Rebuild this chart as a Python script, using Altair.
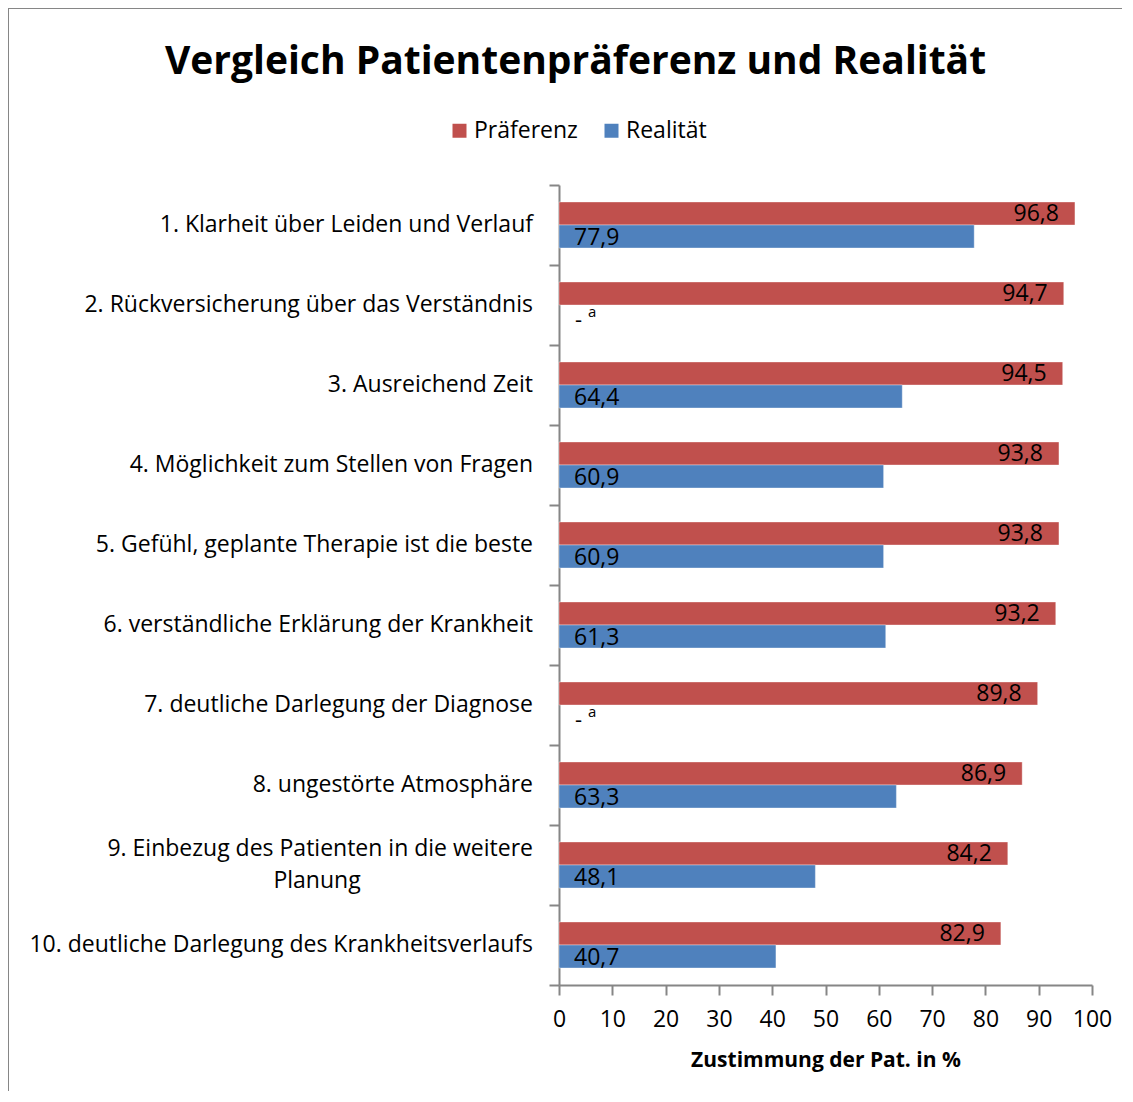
import altair as alt
import pandas as pd

categories = [
    "1. Klarheit über Leiden und Verlauf",
    "2. Rückversicherung über das Verständnis",
    "3. Ausreichend Zeit",
    "4. Möglichkeit zum Stellen von Fragen",
    "5. Gefühl, geplante Therapie ist die beste",
    "6. verständliche Erklärung der Krankheit",
    "7. deutliche Darlegung der Diagnose",
    "8. ungestörte Atmosphäre",
    "9. Einbezug des Patienten in die weitere Planung",
    "10. deutliche Darlegung des Krankheitsverlaufs",
]
praeferenz = [96.8, 94.7, 94.5, 93.8, 93.8, 93.2, 89.8, 86.9, 84.2, 82.9]
realitaet = [77.9, None, 64.4, 60.9, 60.9, 61.3, None, 63.3, 48.1, 40.7]
series = ["Präferenz", "Realität"]
colors = ["#C0504D", "#4F81BD"]
x_ticks = [0, 10, 20, 30, 40, 50, 60, 70, 80, 90, 100]

FONT = "Open Sans"
GRAY = "#868686"
FS = 23

rows = []
for c, p, r in zip(categories, praeferenz, realitaet):
    rows.append({"cat": c, "series": "Präferenz", "value": p})
    rows.append({"cat": c, "series": "Realität", "value": r})
df = pd.DataFrame(rows)
df_bars = df.dropna()
df_missing = df[df["value"].isna()].copy()

label_df = pd.DataFrame({"cat": categories, "line1": categories, "line2": [""] * len(categories)})
label_df.loc[8, "line1"] = "9. Einbezug des Patienten in die weitere"
label_df.loc[8, "line2"] = "Planung"

y_scale = alt.Scale(domain=categories, paddingInner=0, paddingOuter=0)
y_enc = alt.Y("cat:N", scale=y_scale, sort=categories,
              axis=alt.Axis(title=None, labels=False, ticks=True, tickBand="extent",
                            tickSize=10, tickColor=GRAY, tickWidth=2,
                            domainColor=GRAY, domainWidth=2))
yoff = alt.YOffset("series:N", scale=alt.Scale(domain=series, paddingInner=0, paddingOuter=0.739))
x_scale = alt.Scale(domain=[0, 100], nice=False)

fmt = "replace(format(datum.value, '.1f'), '.', ',')"

base = alt.Chart(df_bars)

bars = base.mark_bar(stroke="white", strokeWidth=0.6, strokeOpacity=0.6).encode(
    y=y_enc,
    yOffset=yoff,
    x=alt.X("value:Q", scale=x_scale,
            axis=alt.Axis(values=x_ticks, title="Zustimmung der Pat. in %", grid=False,
                          tickSize=10, tickColor=GRAY, tickWidth=2,
                          domainColor=GRAY, domainWidth=2,
                          labelFontSize=FS, labelFont=FONT, labelColor="black",
                          labelPadding=13, labelFlush=False,
                          titleFontSize=21, titleFont=FONT, titleFontWeight="bold",
                          titleColor="black", titlePadding=18)),
    color=alt.Color("series:N", scale=alt.Scale(domain=series, range=colors),
                    legend=alt.Legend(title=None, orient="none", legendX=-111, legendY=-66,
                                      direction="horizontal", symbolType="square",
                                      symbolSize=196, symbolStrokeWidth=0,
                                      labelFontSize=FS, labelFont=FONT, labelColor="black",
                                      labelOffset=3, columnPadding=22)),
)

ykw = dict(y=alt.Y("cat:N", scale=y_scale, sort=categories), yOffset=yoff)

pref_labels = alt.Chart(df_bars).transform_filter(
    alt.datum.series == "Präferenz"
).transform_calculate(lab=fmt).mark_text(
    align="right", baseline="middle", dx=-16, dy=1, fontSize=FS, font=FONT, color="black"
).encode(x=alt.X("value:Q", scale=x_scale), text="lab:N", **ykw)

real_labels = alt.Chart(df_bars).transform_filter(
    alt.datum.series == "Realität"
).transform_calculate(lab=fmt).mark_text(
    align="left", baseline="middle", dx=15, dy=1, fontSize=FS, font=FONT, color="black"
).encode(x=alt.value(0), text="lab:N", **ykw)

miss_dash = alt.Chart(df_missing).mark_text(
    align="left", baseline="middle", dx=16, dy=3, fontSize=22, font=FONT, color="black", text="-"
).encode(x=alt.value(0), **ykw)

miss_a = alt.Chart(df_missing).mark_text(
    align="left", baseline="middle", dx=29, dy=-5, fontSize=15, font=FONT, color="black", text="a"
).encode(x=alt.value(0), **ykw)

ycat = alt.Y("cat:N", scale=y_scale, sort=categories)

cat_line1 = alt.Chart(label_df).transform_filter(alt.datum.line2 == "").mark_text(
    align="right", baseline="middle", fontSize=FS, font=FONT, color="black"
).encode(y=ycat, x=alt.value(-26), text="line1:N")

cat_two1 = alt.Chart(label_df).transform_filter(alt.datum.line2 != "").mark_text(
    align="right", baseline="middle", dy=-16, fontSize=FS, font=FONT, color="black"
).encode(y=ycat, x=alt.value(-26), text="line1:N")

cat_two2 = alt.Chart(label_df).transform_filter(alt.datum.line2 != "").mark_text(
    align="center", baseline="middle", dy=16, fontSize=FS, font=FONT, color="black"
).encode(y=ycat, x=alt.value(-242), text="line2:N")

border_top = alt.Chart(pd.DataFrame({"k": [0]})).mark_rule(color=GRAY, strokeWidth=2).encode(
    x=alt.value(-551), x2=alt.value(620), y=alt.value(-177))
border_left = alt.Chart(pd.DataFrame({"k": [0]})).mark_rule(color=GRAY, strokeWidth=2).encode(
    x=alt.value(-551), y=alt.value(-177), y2=alt.value(1000))

chart = alt.layer(
    bars, pref_labels, real_labels, miss_dash, miss_a,
    cat_line1, cat_two1, cat_two2, border_top, border_left
).properties(
    width=533, height=800,
    title=alt.TitleParams("Vergleich Patientenpräferenz und Realität", font=FONT,
                          fontSize=39, fontWeight="bold", color="black",
                          anchor="middle", frame="group", dx=-250, offset=0, dy=75),
    autosize=alt.AutoSizeParams(type="none"),
    padding={"left": 551, "top": 177, "right": 30, "bottom": 106},
).configure_view(stroke=None)

chart.save("out.html", embed_options={"renderer": "svg", "actions": False})
